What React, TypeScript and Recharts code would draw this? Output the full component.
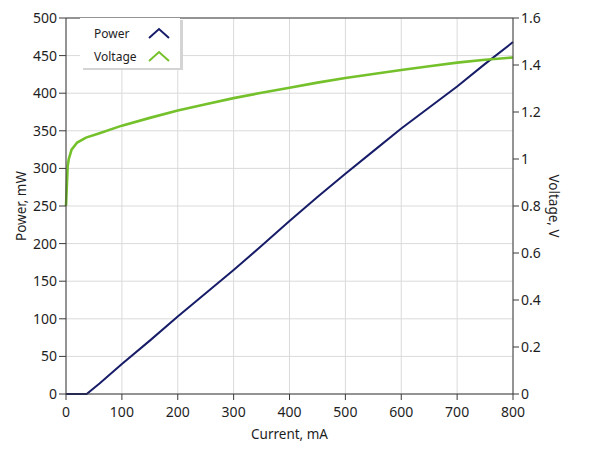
import React from 'react';
import { LineChart, Line, XAxis, YAxis, CartesianGrid, ReferenceLine } from 'recharts';

const currentMA = [0, 3, 5, 10, 20, 35, 37, 60, 100, 150, 200, 250, 300, 350, 400, 450, 500, 550, 600, 650, 700, 750, 800];
const powerMW = [0, 0, 0, 0, 0, 0, 0, 14, 40, 71, 103, 134, 165, 197, 230, 262, 293, 323, 353, 381, 409, 439, 468];
const voltageV = [0.8, 0.97, 1.0, 1.04, 1.07, 1.09, 1.092, 1.11, 1.142, 1.175, 1.206, 1.233, 1.259, 1.282, 1.303, 1.325, 1.345, 1.362, 1.379, 1.395, 1.41, 1.422, 1.432];

const xTicks = [0, 100, 200, 300, 400, 500, 600, 700, 800];
const powerTicks = [0, 50, 100, 150, 200, 250, 300, 350, 400, 450, 500];
const voltageTicks = [0, 0.2, 0.4, 0.6, 0.8, 1, 1.2, 1.4, 1.6];

const POWER_COLOR = '#171c68';
const VOLTAGE_COLOR = '#74c12b';
const AXIS_COLOR = '#3a3a3a';
const TEXT_COLOR = '#1e1e1e';
const FONT = "'Noto Sans', sans-serif";

const legendItems = [
  { name: 'Power', color: POWER_COLOR },
  { name: 'Voltage', color: VOLTAGE_COLOR },
];

const data = currentMA.map((c, i) => ({ current: c, power: powerMW[i], voltage: voltageV[i] }));

const tickStyle = { fill: TEXT_COLOR, fontSize: 14, fontFamily: FONT };

const LeftTitle = (props: any) => {
  const vb = props.viewBox;
  const cx = 13;
  const cy = vb.y + vb.height / 2;
  return (
    <text x={cx} y={cy} transform={`rotate(-90 ${cx} ${cy})`} textAnchor="middle" dominantBaseline="central"
      fill={TEXT_COLOR} fontSize={13.5} fontFamily={FONT}>Power, mW</text>
  );
};

const RightTitle = (props: any) => {
  const vb = props.viewBox;
  const cx = 546;
  const cy = vb.y + vb.height / 2;
  return (
    <text x={cx} y={cy} transform={`rotate(90 ${cx} ${cy})`} textAnchor="middle" dominantBaseline="central"
      fill={TEXT_COLOR} fontSize={13.5} fontFamily={FONT}>Voltage, V</text>
  );
};

const BottomTitle = (props: any) => {
  const vb = props.viewBox;
  const cx = vb.x + vb.width / 2;
  const cy = 426;
  return (
    <text x={cx} y={cy} textAnchor="middle" dominantBaseline="central"
      fill={TEXT_COLOR} fontSize={13.5} fontFamily={FONT}>Current, mA</text>
  );
};

export default function App() {
  return (
    <div style={{ position: 'relative', width: 573, height: 440 }}>
      <LineChart width={573} height={440} data={data} margin={{ top: 10, right: 0, bottom: 0, left: 0 }}>
        <CartesianGrid stroke="#dadada" strokeWidth={1} horizontalValues={powerTicks} verticalValues={xTicks} yAxisId="left" />
        <XAxis dataKey="current" type="number" domain={[0, 800]} ticks={xTicks} height={54}
          stroke={AXIS_COLOR} tick={tickStyle} tickSize={6} tickMargin={7} interval={0}
          label={<BottomTitle />} />
        <YAxis yAxisId="left" type="number" domain={[0, 500]} ticks={powerTicks} width={58}
          stroke={AXIS_COLOR} tick={tickStyle} tickSize={7} tickMargin={2} interval={0}
          label={<LeftTitle />} />
        <YAxis yAxisId="right" orientation="right" type="number" domain={[0, 1.6]} ticks={voltageTicks} width={68}
          stroke={AXIS_COLOR} tick={tickStyle} tickSize={6} tickMargin={2} interval={0}
          tickFormatter={(v: number) => String(v)}
          label={<RightTitle />} />
        <ReferenceLine yAxisId="left" y={500} stroke={AXIS_COLOR} strokeWidth={1} ifOverflow="extendDomain" />
        <Line yAxisId="left" type="linear" dataKey="power" stroke={POWER_COLOR} strokeWidth={2} dot={false} isAnimationActive={false} />
        <Line yAxisId="right" type="linear" dataKey="voltage" stroke={VOLTAGE_COLOR} strokeWidth={2.6} dot={false} isAnimationActive={false} />
      </LineChart>
      <div style={{
        position: 'absolute', left: 72, top: 10, width: 100, height: 50, background: '#fff',
        boxShadow: '3px 2px 0 #d4d4d4', fontFamily: FONT, fontSize: 12, color: TEXT_COLOR,
      }}>
        {legendItems.map((it, i) => (
          <div key={it.name} style={{ position: 'absolute', left: 14, top: 6 + i * 23, height: 18, display: 'flex', alignItems: 'center', width: 90 }}>
            <span style={{ width: 53 }}>{it.name}</span>
            <svg width={24} height={14}>
              <polyline points="2,12 12,3 22,12" fill="none" stroke={it.color} strokeWidth={2} />
            </svg>
          </div>
        ))}
      </div>
    </div>
  );
}
